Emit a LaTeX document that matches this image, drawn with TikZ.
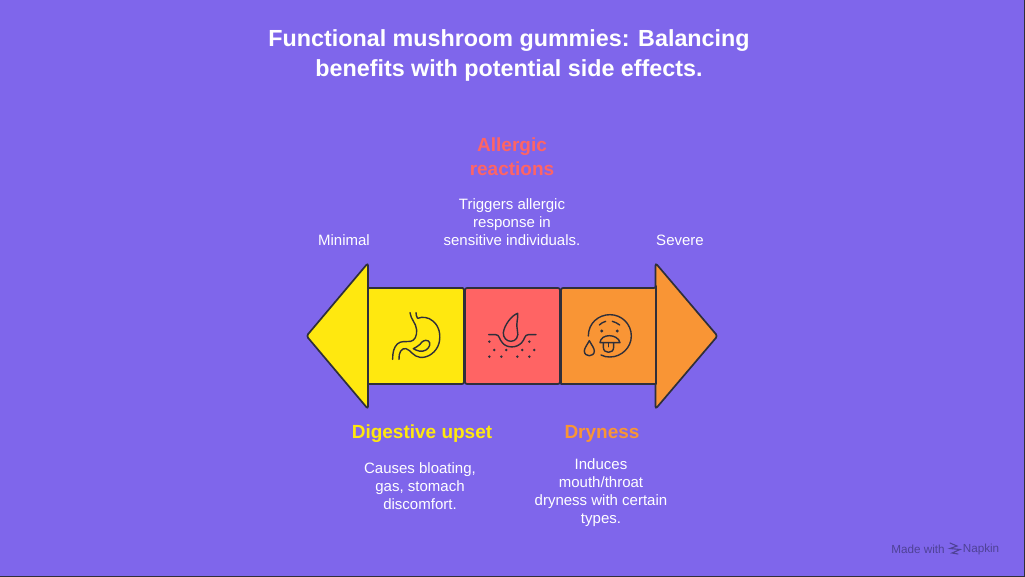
\documentclass[tikz,border=0pt]{standalone}
\usepackage{fontspec}
\setmainfont{Liberation Sans}
\definecolor{bgc}{HTML}{7F66EB}
\definecolor{ink}{HTML}{2F2F3A}
\definecolor{yel}{HTML}{FFE80F}
\definecolor{red1}{HTML}{FF6464}
\definecolor{ora}{HTML}{F99535}
\definecolor{mark1}{HTML}{4F4296}
\tikzset{
 shapeline/.style={draw=ink,line width=1.7pt,line join=round,rounded corners=2.5pt},
 icon/.style={draw=ink,line width=1.4pt,line cap=round,line join=round},
 dotm/.style={fill=ink,draw=none},
 titletxt/.style={text=white,font=\fontsize{23.3}{30}\selectfont\bfseries,align=center,anchor=center,inner sep=0pt},
 headtxt/.style={font=\fontsize{19}{24}\selectfont\bfseries,align=center,anchor=center,inner sep=0pt},
 bodytxt/.style={text=white,font=\fontsize{15}{18}\selectfont,align=center,anchor=center,inner sep=0pt},
 marktxt/.style={text=mark1,font=\fontsize{11.7}{13}\selectfont,anchor=center,inner sep=0pt},
}
\begin{document}
\begin{tikzpicture}[x=1pt,y=-1pt]
\useasboundingbox (0,0) rectangle (1025,577);
\fill[bgc] (0,0) rectangle (1025,577);
\fill[ink] (0,576) rectangle (1025,577);
\fill[ink] (1024,0) rectangle (1025,577);
% arrows and boxes
\draw[shapeline,fill=yel] (368,263) -- (306.5,336) -- (368,409) -- cycle;
\draw[shapeline,fill=ora] (655.5,263) -- (717.5,336) -- (655.5,409) -- cycle;
\draw[shapeline,fill=yel,rounded corners=0pt] (368,288) -- (463,288) [rounded corners=2pt] -- (464,288) -- (464,384) [rounded corners=0pt] -- (368,384) -- cycle;
\draw[shapeline,fill=red1,rounded corners=2pt] (465,288) rectangle (560,384);
\draw[shapeline,fill=ora,rounded corners=2pt] (561,288) -- (656,288) [rounded corners=0pt] -- (656,288) -- (656,384) -- (561,384) [rounded corners=2pt] -- cycle;
% stomach
\begin{scope}[shift={(380,300)},x=0.3333pt,y=-0.3333pt]
\draw[icon] (90,38) .. controls (92,58) and (108,68) .. (110,90) .. controls (111,108) and (104,122) .. (92,124) .. controls (75,126) and (62,122) .. (52,132) .. controls (42,142) and (38,155) .. (38,178);
\draw[icon] (108,38) .. controls (108,46) and (110,50) .. (113,55) .. controls (125,50) and (145,50) .. (160,64) .. controls (178,80) and (183,105) .. (177,130) .. controls (170,155) and (145,175) .. (120,172) .. controls (100,170) and (92,150) .. (78,146) .. controls (64,143) and (56,158) .. (57,178);
\draw[icon] (100,146) .. controls (110,152) and (125,158) .. (138,150) .. controls (150,143) and (153,128) .. (145,123) .. controls (135,117) and (125,125) .. (120,133) .. controls (115,141) and (106,140) .. (100,146) -- cycle;
\end{scope}
% allergic
\begin{scope}[shift={(475,300)},x=0.3333pt,y=-0.3333pt]
\draw[icon] (128,40) .. controls (110,46) and (88,75) .. (85,98) .. controls (84,113) and (95,124) .. (108,124) .. controls (122,124) and (133,110) .. (127,90) .. controls (122,72) and (130,55) .. (128,40) -- cycle;
\draw[icon] (41,104) -- (62,104) .. controls (74,104) and (72,118) .. (82,128) .. controls (95,145) and (125,145) .. (140,128) .. controls (150,118) and (148,104) .. (160,104) -- (183,104);
\foreach \px/\py in {43/125,163/125,58/150,94/150,142/150,178/150,43/170,79/170,127/170,163/170}
  \fill[dotm] (\px,\py) circle [radius=1.4pt];
\end{scope}
% face
\begin{scope}[shift={(575,300)},x=0.3333pt,y=-0.3333pt]
\draw[icon] (40,108) .. controls (40,70) and (70,44) .. (105,44) .. controls (140,44) and (169,72) .. (169,108) .. controls (169,142) and (140,171) .. (105,171) .. controls (95,171) and (88,170) .. (78,165);
\draw[icon] (73,75) .. controls (78,70) and (85,66) .. (92,64);
\draw[icon] (112,64) .. controls (120,66) and (128,70) .. (134,75);
\fill[dotm] (80,93) circle [radius=1.6pt]; \fill[dotm] (127,93) circle [radius=1.6pt];
\draw[icon] (75,128) .. controls (76,115) and (88,107) .. (103,107) .. controls (118,107) and (132,115) .. (135,128) -- cycle;
\draw[icon] (85,128) -- (85,142) .. controls (85,162) and (116,162) .. (116,142) -- (116,128);
\draw[icon] (100,129) -- (100,140);
\draw[icon] (43,122) .. controls (36,135) and (28,145) .. (28,153) .. controls (28,172) and (58,172) .. (58,153) .. controls (58,145) and (50,135) .. (43,122) -- cycle;
\end{scope}
% texts
\node[titletxt] (title) at (509,55) {Functional mushroom gummies: Balancing\\benefits with potential side effects.};
\node[headtxt,text=red1] (allergic) at (512,157) {Allergic\\reactions};
\node[bodytxt] (allergicb) at (512,222) {Triggers allergic\\response in\\sensitive individuals.};
\node[bodytxt] (minimal) at (344,240) {Minimal};
\node[bodytxt] (severe) at (680,240) {Severe};
\node[headtxt,text=yel] (digest) at (422,434) {Digestive upset};
\node[bodytxt] (digestb) at (420,486) {Causes bloating,\\gas, stomach\\discomfort.};
\node[headtxt,text=ora] (dry) at (602,434) {Dryness};
\node[bodytxt] (dryb) at (601,493) {Induces\\mouth/throat\\dryness with certain\\types.};
\node[marktxt] (made) at (918,549) {Made with};
\node[marktxt] (napkin) at (981,549) {Napkin};
\draw[mark1,line width=1.1pt,line cap=round] (950,543) -- (957,546) -- (950,548.5) -- (960,549.5) -- (952,553) -- (958,554);
\end{tikzpicture}
\end{document}
